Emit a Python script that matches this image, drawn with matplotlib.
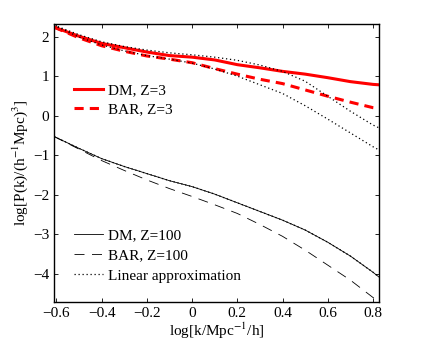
import matplotlib
matplotlib.use("Agg")
import matplotlib.pyplot as plt

plt.rcParams["font.family"] = "Liberation Serif"
plt.rcParams["mathtext.fontset"] = "stix"

# log k values shared by every curve
logk = [-0.61, -0.5, -0.4, -0.3, -0.2, -0.1, 0.0, 0.1, 0.2, 0.3, 0.4, 0.5, 0.6, 0.7, 0.8, 0.826]

dm_z3 = [2.25, 2.02, 1.84, 1.73, 1.62, 1.53, 1.49, 1.42, 1.30, 1.22, 1.13, 1.06, 0.97, 0.87, 0.80, 0.79]
bar_z3 = [2.25, 1.98, 1.78, 1.64, 1.52, 1.44, 1.35, 1.20, 1.06, 0.93, 0.82, 0.66, 0.50, 0.35, 0.21, 0.19]
lin_dm_z3 = [2.30, 2.06, 1.88, 1.76, 1.67, 1.60, 1.55, 1.49, 1.41, 1.29, 1.13, 0.88, 0.50, 0.12, -0.23, -0.30]
lin_bar_z3 = [2.30, 2.00, 1.80, 1.65, 1.53, 1.44, 1.34, 1.19, 1.01, 0.79, 0.57, 0.26, -0.08, -0.43, -0.78, -0.86]

dm_z100 = [-0.52, -0.82, -1.08, -1.28, -1.46, -1.64, -1.79, -1.98, -2.20, -2.42, -2.64, -2.89, -3.20, -3.55, -3.96, -4.08]
bar_z100 = [-0.52, -0.84, -1.13, -1.38, -1.62, -1.84, -2.04, -2.25, -2.47, -2.75, -3.05, -3.40, -3.78, -4.16, -4.60, -4.70]
lin_z100 = [-0.52, -0.82, -1.08, -1.28, -1.46, -1.64, -1.79, -1.98, -2.20, -2.42, -2.64, -2.89, -3.20, -3.55, -3.96, -4.08]

xticks = [-0.6, -0.4, -0.2, 0, 0.2, 0.4, 0.6, 0.8]
yticks = [-4, -3, -2, -1, 0, 1, 2]

fig = plt.figure(figsize=(4.36, 3.43), dpi=100)
ax = fig.add_axes([0.124, 0.12, 0.745, 0.81])

dotted = (0, (1, 2.2))

l1, = ax.plot(logk, dm_z3, color="red", lw=2.2, label="DM, Z=3")
l2, = ax.plot(logk, bar_z3, color="red", lw=2.2, ls=(0, (3, 2)), label="BAR, Z=3")
l3, = ax.plot(logk, dm_z100, color="black", lw=0.6, label="DM, Z=100")
l4, = ax.plot(logk, bar_z100, color="black", lw=0.6, ls=(0, (12, 9)), label="BAR, Z=100")
l5, = ax.plot(logk, lin_z100, color="black", lw=0.9, ls=dotted, label="Linear approximation")
ax.plot(logk, lin_dm_z3, color="black", lw=0.9, ls=dotted)
ax.plot(logk, lin_bar_z3, color="black", lw=0.9, ls=dotted)

ax.set_xlim(-0.61, 0.826)
ax.set_ylim(-4.71, 2.33)
ax.set_xticks(xticks)
ax.set_yticks(yticks)
ax.set_xticklabels([f"{t:g}".replace("-", "\u2212") for t in xticks])
ax.tick_params(direction="in", top=True, right=True, labelsize=11, length=3, width=0.6)
for s in ax.spines.values():
    s.set_linewidth(1.0)

ax.set_xlabel(r"log[k/Mpc$^{-1}$/h]", fontsize=11, labelpad=1)
ax.set_ylabel(r"log[P(k)/(h$^{-1}$Mpc)$^{3}$]", fontsize=11, labelpad=2)

leg1 = ax.legend(handles=[l1, l2], loc="upper left", bbox_to_anchor=(0.02, 0.835),
                 frameon=False, fontsize=11, handlelength=1.85, handletextpad=0.35,
                 labelspacing=0.35)
ax.add_artist(leg1)
ax.legend(handles=[l3, l4, l5], loc="lower left", bbox_to_anchor=(0.02, 0.02),
          frameon=False, fontsize=11, handlelength=1.85, handletextpad=0.35,
          labelspacing=0.41)

fig.savefig("out.png", dpi=100)
